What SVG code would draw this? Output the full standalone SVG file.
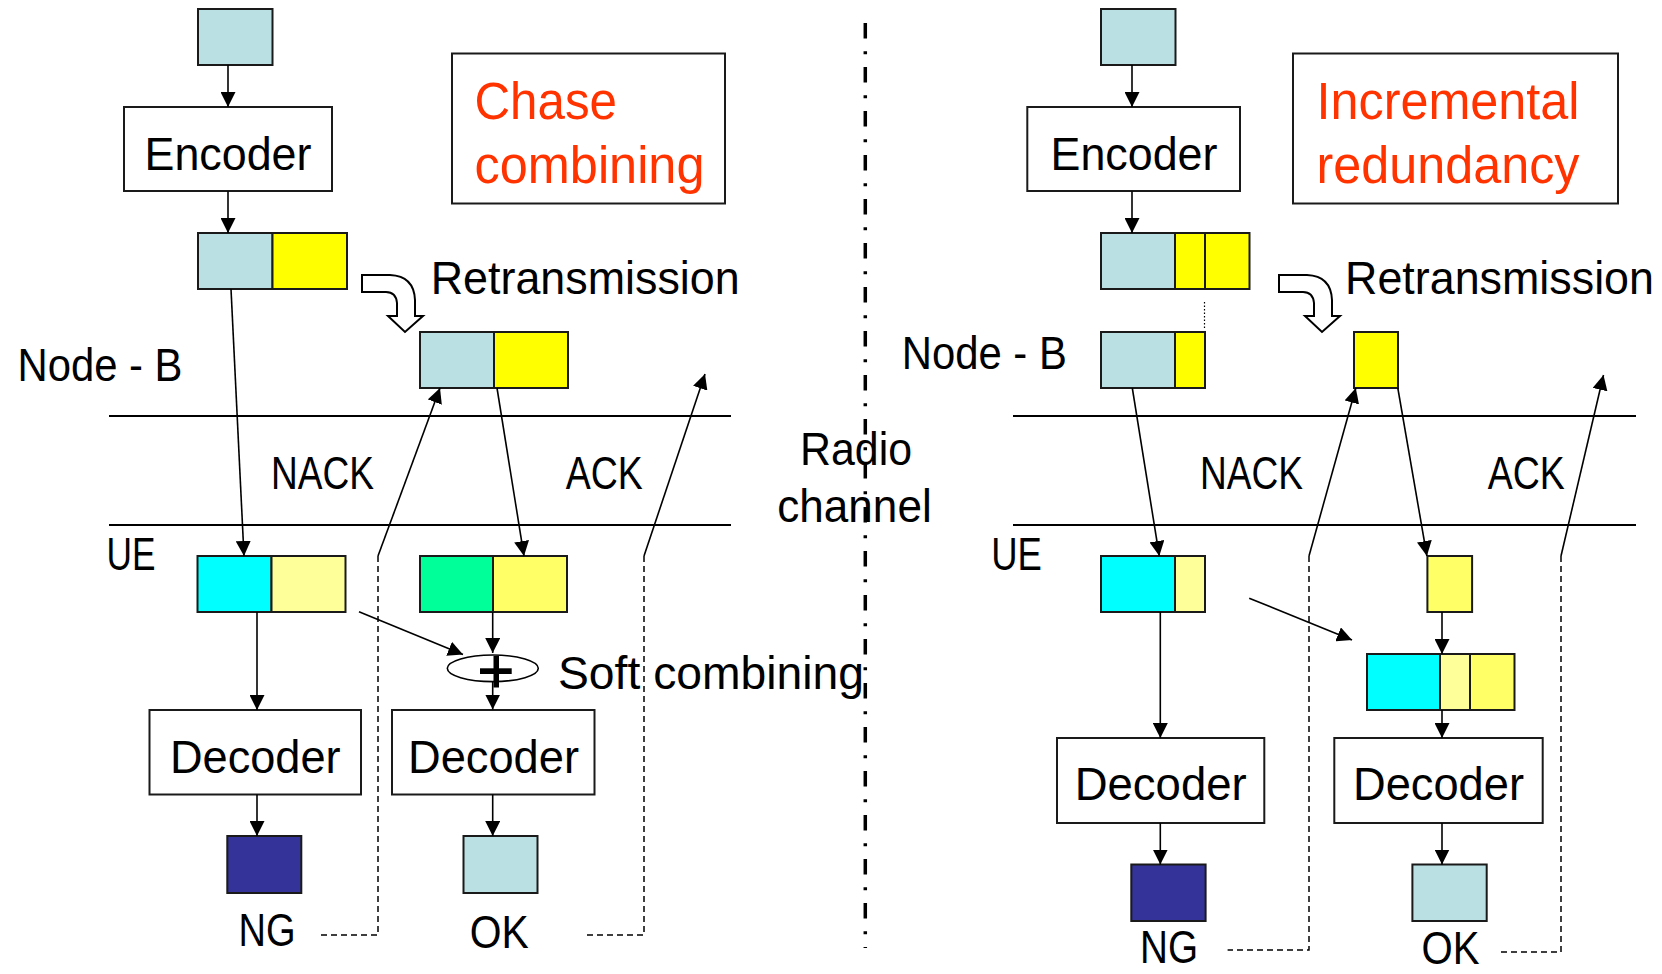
<svg xmlns="http://www.w3.org/2000/svg" width="1662" height="974" viewBox="0 0 1662 974">
<style>
text{font-family:"Liberation Sans",Arial,sans-serif;font-size:46px;fill:#000}
.red{fill:#FF3300;font-size:51px}
.b{stroke:#1a1a1a;stroke-width:2}
.lb{fill:#BBE0E3}
.y{fill:#FFFF00}
.ly{fill:#FFFF99}
.my{fill:#FFFF66}
.cy{fill:#00FFFF}
.gr{fill:#00FF99}
.nv{fill:#333399}
.wb{fill:#fff;stroke:#1a1a1a;stroke-width:2}
.c line,.c path.a{stroke:#000;stroke-width:1.6;fill:none}
.c line.ar{marker-end:url(#ah)}
.d{stroke:#000;stroke-width:1.5;fill:none;stroke-dasharray:6 4}
.h{stroke:#000;stroke-width:2}
.ho{fill:#fff;stroke:#000;stroke-width:2;stroke-linejoin:miter}
</style>
<defs>
<marker id="ah" markerUnits="userSpaceOnUse" viewBox="0 0 15 15" refX="15" refY="7.5" markerWidth="15" markerHeight="15" orient="auto">
<path d="M0,0 L15,7.5 L0,15 z" fill="#000"/>
</marker>
<path id="hollow" d="M362,275 L390,275 Q414,276 415,300 L415,316 L423,316 L405,332 L388,316 L397,316 L397,303 Q396,292 386,292 L362,292 Z"/>
</defs>
<rect width="1662" height="974" fill="#fff"/>

<!-- separator -->
<g id="separator">
<line x1="865.3" y1="23" x2="865.3" y2="948" stroke="#000" stroke-width="3.5" stroke-dasharray="15.5 12.7 3 12.8"/>
</g>

<!-- channel lines -->
<g id="channel-lines">
<line class="h" x1="109" y1="416" x2="731" y2="416"/>
<line class="h" x1="109" y1="525" x2="731" y2="525"/>
<line class="h" x1="1013" y1="416" x2="1636" y2="416"/>
<line class="h" x1="1013" y1="525" x2="1636" y2="525"/>
</g>

<!-- LEFT: Chase combining -->
<g id="l-src"><rect class="b lb" x="198" y="9" width="74.5" height="56"/></g>
<g id="l-encoder"><rect class="wb" x="124" y="107" width="208" height="84"/><text x="144.5" y="170" textLength="167" lengthAdjust="spacingAndGlyphs">Encoder</text></g>
<g id="l-coded"><rect class="b lb" x="198" y="233" width="74.5" height="56"/><rect class="b y" x="272.5" y="233" width="74.5" height="56"/></g>
<g id="l-title"><rect class="wb" x="452" y="53.5" width="273" height="150"/><text class="red" x="474.5" y="119.3" textLength="142.5" lengthAdjust="spacingAndGlyphs">Chase</text><text class="red" x="474.5" y="182.7" textLength="230" lengthAdjust="spacingAndGlyphs">combining</text></g>
<g id="l-retx-label"><use href="#hollow" class="ho"/><text x="430.7" y="294" textLength="309" lengthAdjust="spacingAndGlyphs">Retransmission</text></g>
<g id="l-retx"><rect class="b lb" x="420" y="332" width="74" height="56"/><rect class="b y" x="494" y="332" width="74" height="56"/></g>
<g id="l-nodeb"><text x="17.5" y="381" textLength="165" lengthAdjust="spacingAndGlyphs">Node - B</text></g>
<g id="l-nack"><text x="271" y="488.6" textLength="103" lengthAdjust="spacingAndGlyphs">NACK</text></g>
<g id="l-ack"><text x="565.7" y="488.6" textLength="77" lengthAdjust="spacingAndGlyphs">ACK</text></g>
<g id="radio"><text x="800" y="465" textLength="112" lengthAdjust="spacingAndGlyphs">Radio</text><text x="777.3" y="521.7" textLength="154.4" lengthAdjust="spacingAndGlyphs">channel</text></g>
<g id="l-ue"><text x="106.6" y="570.3" textLength="49" lengthAdjust="spacingAndGlyphs">UE</text></g>
<g id="l-rx1"><rect class="b cy" x="197.5" y="556" width="74" height="56"/><rect class="b ly" x="271.5" y="556" width="74" height="56"/></g>
<g id="l-rx2"><rect class="b gr" x="420" y="556" width="73" height="56"/><rect class="b my" x="493" y="556" width="74" height="56"/></g>
<g id="l-combiner"><ellipse cx="492.8" cy="668.3" rx="45.5" ry="13.3" fill="none" stroke="#000" stroke-width="1.6"/><rect x="480" y="668.3" width="31.7" height="5.7" fill="#000"/><rect x="493.5" y="656" width="5.5" height="31.5" fill="#000"/><text x="558" y="689.4" textLength="306" lengthAdjust="spacingAndGlyphs">Soft combining</text></g>
<g id="l-dec1"><rect class="wb" x="149.5" y="710" width="211.5" height="84.5"/><text x="170" y="772.5" textLength="170.6" lengthAdjust="spacingAndGlyphs">Decoder</text></g>
<g id="l-dec2"><rect class="wb" x="392" y="710" width="202.5" height="84.5"/><text x="408" y="772.5" textLength="171" lengthAdjust="spacingAndGlyphs">Decoder</text></g>
<g id="l-ng"><rect class="b nv" x="227.3" y="836" width="74" height="57"/><text x="238.5" y="945.8" textLength="57" lengthAdjust="spacingAndGlyphs">NG</text></g>
<g id="l-ok"><rect class="b lb" x="463.5" y="836" width="74" height="57"/><text x="469.7" y="948.4" textLength="59" lengthAdjust="spacingAndGlyphs">OK</text></g>

<!-- RIGHT: Incremental redundancy -->
<g id="r-src"><rect class="b lb" x="1101" y="9" width="74.5" height="56"/></g>
<g id="r-encoder"><rect class="wb" x="1027.3" y="107" width="212.7" height="84"/><text x="1050.5" y="170" textLength="167" lengthAdjust="spacingAndGlyphs">Encoder</text></g>
<g id="r-coded"><rect class="b lb" x="1101" y="233" width="74" height="56"/><rect class="b y" x="1175" y="233" width="30" height="56"/><rect class="b y" x="1205" y="233" width="44.5" height="56"/></g>
<g id="r-title"><rect class="wb" x="1293" y="53.5" width="325" height="150"/><text class="red" x="1316.5" y="119.3" textLength="263" lengthAdjust="spacingAndGlyphs">Incremental</text><text class="red" x="1316.5" y="182.7" textLength="263" lengthAdjust="spacingAndGlyphs">redundancy</text></g>
<g id="r-retx-label"><use href="#hollow" class="ho" transform="translate(917,0)"/><text x="1345" y="294" textLength="309" lengthAdjust="spacingAndGlyphs">Retransmission</text></g>
<g id="r-tx1"><rect class="b lb" x="1101" y="332" width="74" height="56"/><rect class="b y" x="1175" y="332" width="30" height="56"/></g>
<g id="r-retx"><rect class="b y" x="1354" y="332" width="44" height="56"/></g>
<g id="r-nodeb"><text x="901.8" y="369.3" textLength="165" lengthAdjust="spacingAndGlyphs">Node - B</text></g>
<g id="r-nack"><text x="1200" y="488.6" textLength="103" lengthAdjust="spacingAndGlyphs">NACK</text></g>
<g id="r-ack"><text x="1487.7" y="488.6" textLength="77" lengthAdjust="spacingAndGlyphs">ACK</text></g>
<g id="r-ue"><text x="991.2" y="570.3" textLength="50.7" lengthAdjust="spacingAndGlyphs">UE</text></g>
<g id="r-rx1"><rect class="b cy" x="1101" y="556" width="74" height="56"/><rect class="b ly" x="1175" y="556" width="30" height="56"/></g>
<g id="r-rx2"><rect class="b my" x="1427.4" y="556" width="44.7" height="56"/></g>
<g id="r-combined"><rect class="b cy" x="1367" y="654" width="73" height="56"/><rect class="b ly" x="1440" y="654" width="30" height="56"/><rect class="b my" x="1470" y="654" width="44.5" height="56"/></g>
<g id="r-dec1"><rect class="wb" x="1057" y="738" width="207.3" height="85"/><text x="1074.7" y="800.4" textLength="172" lengthAdjust="spacingAndGlyphs">Decoder</text></g>
<g id="r-dec2"><rect class="wb" x="1334.3" y="738" width="208.4" height="85"/><text x="1353" y="800.4" textLength="171" lengthAdjust="spacingAndGlyphs">Decoder</text></g>
<g id="r-ng"><rect class="b nv" x="1131.3" y="864.5" width="74.3" height="56.5"/><text x="1140" y="963" textLength="58" lengthAdjust="spacingAndGlyphs">NG</text></g>
<g id="r-ok"><rect class="b lb" x="1412.4" y="864.5" width="74.3" height="56.5"/><text x="1421.5" y="963.5" textLength="58" lengthAdjust="spacingAndGlyphs">OK</text></g>

<!-- connectors -->
<g id="connectors" class="c">
<line class="ar" x1="228" y1="65" x2="228" y2="107"/>
<line class="ar" x1="228" y1="191.3" x2="228" y2="233"/>
<line class="ar" x1="231" y1="289" x2="244" y2="556"/>
<line class="ar" x1="378" y1="556" x2="440" y2="388"/>
<line class="ar" x1="497" y1="388" x2="524" y2="556"/>
<line class="ar" x1="644" y1="556" x2="705" y2="374"/>
<line class="ar" x1="359" y1="611.7" x2="463" y2="654.5"/>
<line class="ar" x1="492.7" y1="612" x2="492.7" y2="653"/>
<line class="ar" x1="492.7" y1="681" x2="492.7" y2="709.5"/>
<line class="ar" x1="257" y1="612" x2="257" y2="710"/>
<line class="ar" x1="257" y1="794.5" x2="257" y2="836"/>
<line class="ar" x1="492.7" y1="794.5" x2="492.7" y2="836"/>
<path class="d" d="M378,556 L378,935 L318,935"/>
<path class="d" d="M644,556 L644,935 L585,935"/>

<line class="ar" x1="1132" y1="65" x2="1132" y2="107"/>
<line class="ar" x1="1132" y1="191.3" x2="1132" y2="233"/>
<line class="ar" x1="1132.3" y1="388" x2="1159.3" y2="556"/>
<line class="ar" x1="1309" y1="556" x2="1355.8" y2="388"/>
<line class="ar" x1="1397.8" y1="388" x2="1426.9" y2="556"/>
<line class="ar" x1="1561" y1="556" x2="1603.5" y2="375"/>
<line class="ar" x1="1249.2" y1="598.2" x2="1352" y2="640"/>
<line class="ar" x1="1442" y1="612" x2="1442" y2="654"/>
<line class="ar" x1="1442" y1="710" x2="1442" y2="738"/>
<line class="ar" x1="1160.3" y1="612" x2="1160.3" y2="738"/>
<line class="ar" x1="1160.3" y1="823" x2="1160.3" y2="864.5"/>
<line class="ar" x1="1442" y1="823" x2="1442" y2="864.5"/>
<path class="d" d="M1309,556 L1309,950 L1227.6,950"/>
<path class="d" d="M1561,556 L1561,952 L1501,952"/>
<line x1="1204.5" y1="302" x2="1204.5" y2="329" style="stroke-dasharray:1.5 2;stroke-width:1.2"/>
</g>
</svg>
